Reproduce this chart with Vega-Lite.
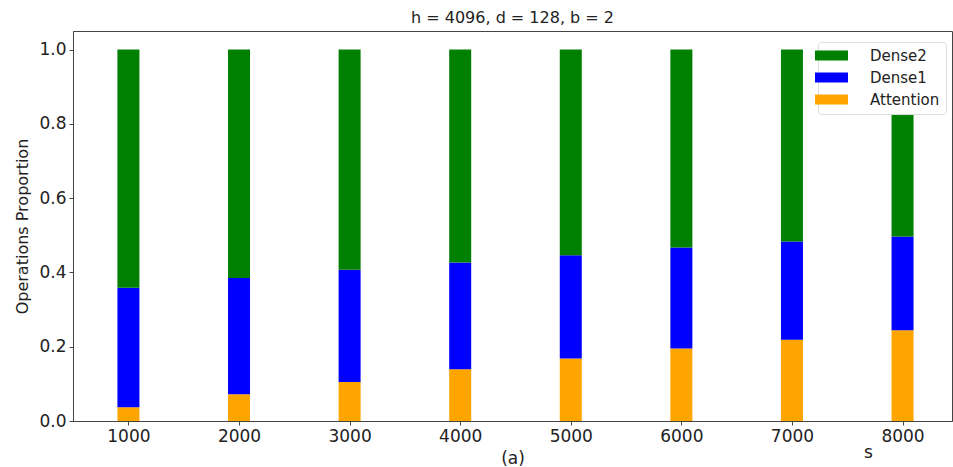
{
  "$schema": "https://vega.github.io/schema/vega-lite/v6.json",
  "autosize": {"type": "none"},
  "width": 879,
  "height": 390,
  "padding": {"left": 73, "top": 31, "right": 1, "bottom": 46},
  "background": "white",
  "config": {
    "font": "DejaVu Sans",
    "view": {"stroke": "#444", "strokeWidth": 1},
    "axis": {"grid": false, "domainColor": "#444", "tickColor": "#444", "labelColor": "#222", "titleColor": "#222", "labelFont": "DejaVu Sans", "titleFont": "DejaVu Sans", "titleFontWeight": "normal", "labelFontSize": 17, "titleFontSize": 17, "tickSize": 4, "labelPadding": 3}
  },
  "title": {"text": "h = 4096, d = 128, b = 2", "fontSize": 16, "fontWeight": "normal", "font": "DejaVu Sans", "color": "#222", "offset": 5},
  "data": {
    "values": [
      {"s": 1000, "component": "Attention", "value": 0.037},
      {"s": 1000, "component": "Dense1", "value": 0.322},
      {"s": 1000, "component": "Dense2", "value": 0.641},
      {"s": 2000, "component": "Attention", "value": 0.072},
      {"s": 2000, "component": "Dense1", "value": 0.313},
      {"s": 2000, "component": "Dense2", "value": 0.615},
      {"s": 3000, "component": "Attention", "value": 0.105},
      {"s": 3000, "component": "Dense1", "value": 0.302},
      {"s": 3000, "component": "Dense2", "value": 0.593},
      {"s": 4000, "component": "Attention", "value": 0.139},
      {"s": 4000, "component": "Dense1", "value": 0.288},
      {"s": 4000, "component": "Dense2", "value": 0.573},
      {"s": 5000, "component": "Attention", "value": 0.168},
      {"s": 5000, "component": "Dense1", "value": 0.278},
      {"s": 5000, "component": "Dense2", "value": 0.554},
      {"s": 6000, "component": "Attention", "value": 0.195},
      {"s": 6000, "component": "Dense1", "value": 0.272},
      {"s": 6000, "component": "Dense2", "value": 0.533},
      {"s": 7000, "component": "Attention", "value": 0.219},
      {"s": 7000, "component": "Dense1", "value": 0.264},
      {"s": 7000, "component": "Dense2", "value": 0.517},
      {"s": 8000, "component": "Attention", "value": 0.244},
      {"s": 8000, "component": "Dense1", "value": 0.253},
      {"s": 8000, "component": "Dense2", "value": 0.503}
    ]
  },
  "layer": [
    {
      "mark": {"type": "bar", "size": 22},
      "encoding": {
        "x": {"field": "s", "type": "quantitative", "scale": {"domain": [544, 8402], "nice": false, "zero": false},
          "axis": {"orient": "bottom", "values": [1000, 2000, 3000, 4000, 5000, 6000, 7000, 8000], "format": "d", "title": "(a)", "titleY": 42, "titleBaseline": "alphabetic"}},
        "y": {"field": "value", "type": "quantitative", "stack": "zero", "scale": {"domain": [0, 1.05], "nice": false},
          "axis": {"values": [0, 0.2, 0.4, 0.6, 0.8, 1.0], "format": ".1f", "title": "Operations Proportion", "titleX": -51, "titleY": 195, "titleBaseline": "middle", "titleFontSize": 16}},
        "color": {"field": "component", "type": "nominal",
          "scale": {"domain": ["Dense2", "Dense1", "Attention"], "range": ["#008000", "#0000ff", "#ffa500"]},
          "legend": {"title": null, "orient": "none", "legendX": 745, "legendY": 11, "fillColor": "white", "strokeColor": "#ddd", "cornerRadius": 3, "padding": 6,
            "symbolType": "M-2.5,-0.75H2.5V0.75H-2.5Z", "symbolSize": 174, "symbolStrokeWidth": 0, "symbolOpacity": 1,
            "labelFontSize": 15, "labelFont": "DejaVu Sans", "labelColor": "#222", "labelOffset": 31, "rowPadding": 6}},
        "order": {"field": "component", "sort": "ascending"}
      }
    },
    {
      "mark": {"type": "point", "opacity": 0},
      "encoding": {
        "x": {"field": "s", "type": "quantitative",
          "axis": {"orient": "bottom", "labels": false, "ticks": false, "domain": false, "title": "s", "titleX": 795, "titleY": 36, "titleBaseline": "alphabetic"}}
      }
    }
  ],
  "resolve": {"axis": {"x": "independent"}}
}
